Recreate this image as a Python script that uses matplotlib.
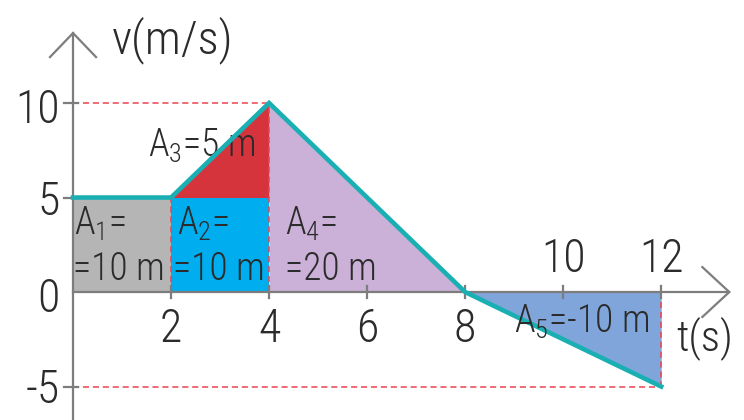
import matplotlib
matplotlib.use("Agg")
import matplotlib.pyplot as plt
from matplotlib import font_manager as fm

# velocity-time data
t_pts = [0, 2, 4, 8, 12]
v_pts = [5, 5, 10, 0, -5]
x_ticks = [2, 4, 6, 8, 10, 12]
y_ticks = [10, 5, 0, -5]
area_labels = ["A$_{\\mathrm{1}}$=", "A$_{\\mathrm{2}}$=", "A$_{\\mathrm{3}}$=5 m", "A$_{\\mathrm{4}}$=", "A$_{\\mathrm{5}}$=-10 m"]
area_values = ["=10 m", "=10 m", "=20 m"]

# pick a narrow sans font if one is around
available = set(f.name for f in fm.fontManager.ttflist)
narrow = "Liberation Sans"
for cand in ["Roboto Condensed", "Barlow Semi Condensed", "Sofia Sans Semi Condensed", "Liberation Sans Narrow"]:
    if cand in available:
        narrow = cand
        break
NARROW = [narrow, "DejaVu Sans"]
W = "light"
plt.rcParams["mathtext.fontset"] = "custom"
plt.rcParams["mathtext.rm"] = narrow + ":light"
plt.rcParams["mathtext.it"] = narrow + ":light"

teal = "#1ab0b3"
axis_gray = "#7d7d7d"
txt = "#2b2b2b"
red_dash = "#ea4450"

fig = plt.figure(figsize=(7.44, 4.2), dpi=100)
ax = fig.add_axes([0, 0, 1, 1])
ax.set_xlim(-1.49, 13.69)
ax.set_ylim(-6.77, 15.45)
ax.axis("off")

# filled areas
ax.fill_between(t_pts[0:2], 0, v_pts[0:2], color="#b5b5b5", lw=0)
ax.fill_between(t_pts[1:3], 0, 5, color="#00aeef", lw=0)
ax.fill_between(t_pts[1:3], 5, v_pts[1:3], color="#d6343c", lw=0)
ax.fill_between(t_pts[2:4], 0, v_pts[2:4], color="#cbb0d7", lw=0)
ax.fill_between(t_pts[3:5], 0, v_pts[3:5], color="#80a5da", lw=0)

# red dashed guides
dash = dict(color=red_dash, lw=1.1, ls=(0, (4, 2.5)))
ax.plot([0, 4], [10, 10], **dash)
ax.plot([0, 12], [-5, -5], **dash)
ax.plot([2, 2], [0, 5], **dash)
ax.plot([4, 4], [0, 10], **dash)
ax.plot([12, 12], [0, -5], **dash)

# axes with open arrow heads
x_end, y_end = 13.39, 13.7
ax.plot([0, x_end], [0, 0], color=axis_gray, lw=1.6, zorder=3)
ax.plot([0, 0], [-7, y_end], color=axis_gray, lw=1.6, zorder=3)
ax.plot([x_end - 0.55, x_end, x_end - 0.55], [1.32, 0, -1.32], color=axis_gray, lw=1.6, solid_joinstyle="miter")
ax.plot([-0.47, 0, 0.47], [y_end - 1.27, y_end, y_end - 1.27], color=axis_gray, lw=1.6, solid_joinstyle="miter")
for xt in x_ticks:
    ax.plot([xt, xt], [-0.33, 0.33], color=axis_gray, lw=1.6, zorder=3)
for yt in y_ticks:
    if yt != 0:
        ax.plot([-0.18, 0.1], [yt, yt], color=axis_gray, lw=1.6, zorder=3)

# velocity line
ax.plot(t_pts, v_pts, color=teal, lw=3.3, zorder=4, solid_joinstyle="miter")

# tick labels
for xt in x_ticks:
    yb = 1.06 if xt >= 10 else -2.65
    ax.text(xt, yb, str(xt), ha="center", va="baseline", fontsize=33, color=txt, family=NARROW, weight=W)
y_base = {10: 8.94, 5: 4.07, 0: -1.06, -5: -5.87}
for yt in y_ticks:
    ax.text(-0.27, y_base[yt], str(yt), ha="right", va="baseline", fontsize=33, color=txt, family=NARROW, weight=W)

ax.text(0.8, 12.65, "v(m/s)", ha="left", va="baseline", fontsize=34, color=txt, family=NARROW, weight=W)
ax.text(12.3, -3.07, "t(s)", ha="left", va="baseline", fontsize=31, color=txt, family=NARROW, weight=W)

# area annotations
fs = 27
ax.text(0.02, 3.02, area_labels[0], fontsize=fs, color=txt, family=NARROW, va="baseline", weight=W)
ax.text(0.0, 0.63, area_values[0], fontsize=fs, color=txt, family=NARROW, va="baseline", weight=W)
ax.text(2.12, 3.02, area_labels[1], fontsize=fs, color=txt, family=NARROW, va="baseline", weight=W)
ax.text(2.04, 0.63, area_values[1], fontsize=fs, color=txt, family=NARROW, va="baseline", weight=W)
ax.text(1.53, 7.14, area_labels[2], fontsize=fs, color=txt, family=NARROW, va="baseline", weight=W)
ax.text(4.33, 3.02, area_labels[3], fontsize=fs, color=txt, family=NARROW, va="baseline", weight=W)
ax.text(4.33, 0.63, area_values[2], fontsize=fs, color=txt, family=NARROW, va="baseline", weight=W)
ax.text(9.0, -2.17, area_labels[4], fontsize=fs, color=txt, family=NARROW, va="baseline", zorder=5, weight=W)

fig.savefig("out.png", dpi=100)
